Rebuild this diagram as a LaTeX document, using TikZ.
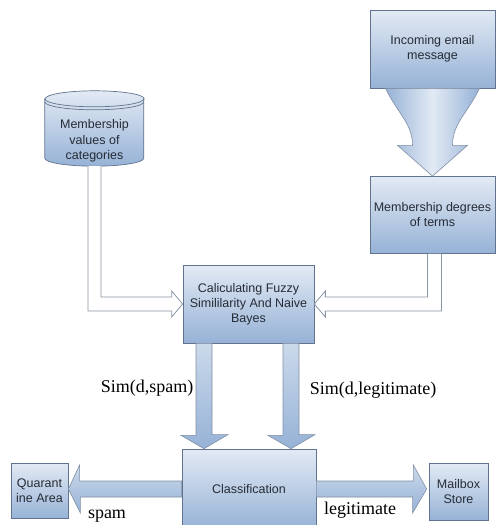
\documentclass[tikz,border=0pt]{standalone}
\usepackage{fontspec}
\setmainfont{Liberation Serif}
\newfontfamily\boxfont{Liberation Sans}
\usepackage{xcolor}
\definecolor{boxTop}{HTML}{E2EAF4}
\definecolor{boxBottom}{HTML}{96B2D6}
\definecolor{boxEdge}{HTML}{61738F}
\definecolor{pipeEdge}{HTML}{8A95A5}
\definecolor{labelText}{HTML}{262B35}
\usepackage{tikz}
\usetikzlibrary{calc, positioning, backgrounds}

\begin{document}
\begin{tikzpicture}[
        x=1pt, y=-1pt,
        procNode/.style={
            draw=boxEdge,
            line width=0.7pt,
            top color=boxTop,
            bottom color=boxBottom,
            font=\boxfont\fontsize{12.5}{15}\selectfont,
            text=labelText,
            align=center,
            inner sep=2pt
        },
        storeNode/.style={
            font=\boxfont\fontsize{12.5}{15.5}\selectfont,
            text=labelText,
            align=center,
            minimum width=99pt,
            minimum height=50pt
        },
        blockArrow/.style={
            draw=boxEdge!80,
            line width=0.6pt,
            top color=boxTop!70!boxBottom,
            bottom color=boxBottom
        },
        pipeArrow/.style={
            draw=pipeEdge,
            line width=0.8pt,
            fill=white
        },
        simLabel/.style={
            font=\fontsize{18}{20}\selectfont,
            text=black
        }
    ]
    \clip (0,0) rectangle (496,525);

    % Inputs
    \node[procNode, minimum width=125pt, minimum height=78pt] (incoming) at (432.5,49) {Incoming email\\message};
    \node[procNode, minimum width=125pt, minimum height=77pt] (degrees) at (432.5,215) {Membership degrees\\of terms};

    % Store of category values
    \node[storeNode] (db) at (94.5,141) {Membership\\values of\\categories};
    \begin{scope}[on background layer]
    \path[draw=boxEdge, line width=0.7pt, top color=boxTop, bottom color=boxBottom]
        ($(db.north west)+(0,-17)$) |- ($(db.south west)+(0,-8)$)
        arc[start angle=180, end angle=360, x radius=49.5pt, y radius=8pt]
        |- ($(db.north east)+(0,-17)$)
        arc[start angle=0, end angle=180, x radius=49.5pt, y radius=8pt] -- cycle;
    \draw[boxEdge, line width=0.7pt] ($(db.north west)+(0,-17)$) arc[start angle=180, end angle=360, x radius=49.5pt, y radius=8pt];
    \draw[boxEdge, line width=0.7pt] ($(db.north west)+(0,-14)$) arc[start angle=180, end angle=360, x radius=49.5pt, y radius=8pt];
    \end{scope}

    % Processing
    \node[procNode, minimum width=131pt, minimum height=78pt] (calc) at (248.5,304) {Caliculating Fuzzy\\Simililarity And Naive\\Bayes};
    \node[procNode, minimum width=134pt, minimum height=80pt] (classify) at (249,489) {Classification};

    % Outputs
    \node[procNode, minimum width=57pt, minimum height=55pt] (quarantine) at (39.5,491) {Quarant\\ine Area};
    \node[procNode, minimum width=59pt, minimum height=57pt] (mailbox) at (458.5,492) {Mailbox\\Store};

    % Curved arrow
    \path[draw=boxEdge!80, line width=0.6pt, left color=boxBottom, right color=boxBottom, middle color=boxTop]
        ($(incoming.south)+(-47,0)$) .. controls +(12,25) and +(0,-22) .. ($(incoming.south)+(-20,57)$)
        -- ++(-15,0) -- (degrees.north) -- ($(incoming.south)+(35,57)$) -- ++(-15,0)
        .. controls +(0,-22) and +(-12,25) .. ($(incoming.south)+(47,0)$) -- cycle;

    % Hollow arrows into the processing box
    \draw[pipeArrow] ($(db.south)+(-6.5,0)$) |- ($(calc.west)+(-11,7)$) -- ++(0,6) -- (calc.west)
        -- ($(calc.west)+(-11,-13)$) -- ($(calc.west)+(-11,-7)$) -| ($(db.south)+(6.5,0)$);
    \draw[pipeArrow] ($(degrees.south)+(-5,0)$) |- ($(calc.east)+(11,-7)$) -- ++(0,-6) -- (calc.east)
        -- ($(calc.east)+(11,13)$) -- ($(calc.east)+(11,7)$) -| ($(degrees.south)+(9,0)$);

    % Block arrows down
    \path[blockArrow] ($(calc.south)+(-52.5,0)$) -- ++(0,92) -- ++(-15,0) -- ($(classify.north)+(-45,0)$)
        -- ++(24,-14) -- ++(-16,0) -- ($(calc.south)+(-36.5,0)$) -- cycle;
    \path[blockArrow] ($(calc.south)+(34.5,0)$) -- ++(0,92) -- ++(-15,0) -- ($(classify.north)+(42,0)$)
        -- ++(24,-14) -- ++(-16,0) -- ($(calc.south)+(50.5,0)$) -- cycle;

    % Block arrows sideways
    \path[blockArrow] ($(classify.west)+(0,-8)$) -- ++(-102,0) -- ++(0,-16) -- (quarantine.east |- classify.west)
        -- ++(12,24) -- ++(0,-16) -- ($(classify.west)+(0,8)$) -- cycle;
    \path[blockArrow] ($(classify.east)+(0,-8)$) -- ++(97,0) -- ++(0,-16) -- ($(mailbox.west |- classify.east)+(-2,0)$)
        -- ++(-14,24) -- ++(0,-16) -- ($(classify.east)+(0,8)$) -- cycle;

    % Labels
    \node[simLabel] (simspam) at (147,388) {Sim(d,spam)};
    \node[simLabel] (simlegit) at (373,390) {Sim(d,legitimate)};
    \node[simLabel] (spamlbl) at (107,516) {spam};
    \node[simLabel] (legitlbl) at (360,510) {legitimate};
\end{tikzpicture}
\end{document}
